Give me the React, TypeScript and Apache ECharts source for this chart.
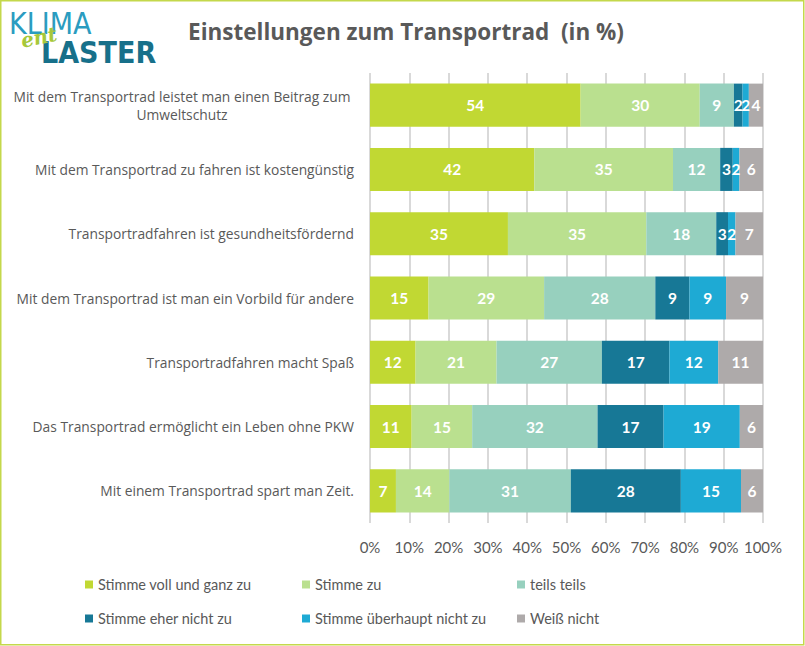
import React, { useEffect, useRef } from "react";
import * as echarts from "echarts";

const categories = [
  "Mit dem Transportrad leistet man einen Beitrag zum\nUmweltschutz",
  "Mit dem Transportrad zu fahren ist kostengünstig",
  "Transportradfahren ist gesundheitsfördernd",
  "Mit dem Transportrad ist man ein Vorbild für andere",
  "Transportradfahren macht Spaß",
  "Das Transportrad ermöglicht ein Leben ohne PKW",
  "Mit einem Transportrad spart man Zeit.",
];

const seriesNames = [
  "Stimme voll und ganz zu",
  "Stimme zu",
  "teils teils",
  "Stimme eher nicht zu",
  "Stimme überhaupt nicht zu",
  "Weiß nicht",
];

const vollUndGanz = [53.6, 41.8, 35.1, 14.9, 11.6, 10.6, 6.6];
const stimmeZu = [30.3, 35.3, 35.2, 29.4, 20.6, 15.4, 13.6];
const teilsTeils = [8.7, 12.0, 17.8, 28.3, 26.8, 31.9, 30.9];
const eherNicht = [2.2, 3.2, 3.0, 8.7, 17.2, 16.8, 28.0];
const ueberhauptNicht = [1.6, 1.7, 1.9, 9.3, 12.4, 19.4, 15.3];
const weissNicht = [3.6, 6.0, 7.0, 9.4, 11.4, 5.9, 5.6];

const tickValues = [0, 10, 20, 30, 40, 50, 60, 70, 80, 90, 100];

const colors = ["#c1d833", "#bae08f", "#97d0be", "#177896", "#1eaad4", "#aeaaaa"];

export default function App() {
  const ref = useRef<HTMLDivElement>(null);
  useEffect(() => {
    if (!ref.current) return;
    const chart = echarts.init(ref.current, undefined, { renderer: "svg" });
    const values = [vollUndGanz, stimmeZu, teilsTeils, eherNicht, ueberhauptNicht, weissNicht];
    const font = "Lato, 'Open Sans', sans-serif";
    const labelFont = "'Open Sans', Lato, sans-serif";
    const colLeft = [80, 297, 512];
    const rowTop = [572, 606];
    const legends = seriesNames.map((name, i) => ({
      left: colLeft[i % 3],
      top: rowTop[Math.floor(i / 3)],
      orient: "horizontal" as const,
      icon: "rect",
      itemWidth: 8,
      itemHeight: 8,
      data: [name],
      textStyle: { fontFamily: font, fontSize: 14.5, color: "#595959" },
    }));
    chart.setOption({
      animation: false,
      color: colors,
      textStyle: { fontFamily: font },
      title: {
        text: "Einstellungen zum Transportrad  (in %)",
        left: 401,
        textAlign: "center",
        top: 15,
        textStyle: { fontFamily: labelFont, fontSize: 22.5, fontWeight: "bold", color: "#595959" },
      },
      graphic: [
        {
          type: "rect",
          shape: { x: 0.75, y: 0.75, width: 803, height: 644 },
          style: { fill: "none", stroke: "#c4d84b", lineWidth: 1.5 },
          silent: true,
        },
        {
          type: "text",
          x: 9,
          y: 8,
          style: {
            text: "KLIMA",
            fontFamily: "'DejaVu Sans Condensed', 'DejaVu Sans', sans-serif",
            fontSize: 30,
            fill: "#2a9cc0",
          },
        },
        {
          type: "text",
          x: 41,
          y: 37,
          style: {
            text: "LASTER",
            fontFamily: "'DejaVu Sans Condensed', 'DejaVu Sans', sans-serif",
            fontWeight: "bold",
            fontSize: 30,
            fill: "#17708a",
          },
        },
        {
          type: "text",
          x: 19,
          y: 31,
          rotation: 0.2,
          style: {
            text: "ent",
            fontFamily: "'DejaVu Serif', serif",
            fontStyle: "italic",
            fontWeight: "bold",
            fontSize: 20,
            fill: "#a6c83a",
          },
        },
      ],
      legend: legends,
      grid: { left: 370, right: 42, top: 73, bottom: 123, containLabel: false },
      xAxis: {
        type: "value",
        min: 0,
        max: 100,
        interval: 10,
        axisLine: { show: false },
        axisTick: { show: false },
        splitLine: { show: true, lineStyle: { color: "#d9d9d9", width: 2 } },
        axisLabel: {
          formatter: (v: number) => (tickValues.includes(v) ? v + "%" : ""),
          fontFamily: font,
          fontSize: 15,
          color: "#595959",
          margin: 16,
        },
      },
      yAxis: {
        type: "category",
        data: categories,
        inverse: true,
        axisLine: { show: false },
        axisTick: { show: false },
        axisLabel: {
          fontFamily: labelFont,
          fontSize: 13.8,
          color: "#595959",
          margin: 16,
          lineHeight: 18,
          formatter: (v: string) => {
            const lines = v.split("\n");
            if (lines.length === 1) return v;
            return lines.map((l) => "{c|" + l + "}").join("\n");
          },
          rich: {
            c: {
              width: 344,
              align: "center",
              fontFamily: labelFont,
              fontSize: 13.8,
              color: "#595959",
              lineHeight: 18,
            },
          },
        },
      },
      series: seriesNames.map((name, i) => ({
        name,
        type: "bar",
        stack: "total",
        barWidth: "67%",
        data: values[i],
        label: {
          show: true,
          position: "inside",
          color: "#ffffff",
          fontFamily: font,
          fontWeight: "bold",
          fontSize: 15.5,
          formatter: (p: any) => String(Math.round(p.value)),
        },
      })),
    });
    return () => chart.dispose();
  }, []);
  return (
    <div
      ref={ref}
      style={{ position: "absolute", left: 0, top: 0, width: 805, height: 646, background: "#ffffff" }}
    />
  );
}
